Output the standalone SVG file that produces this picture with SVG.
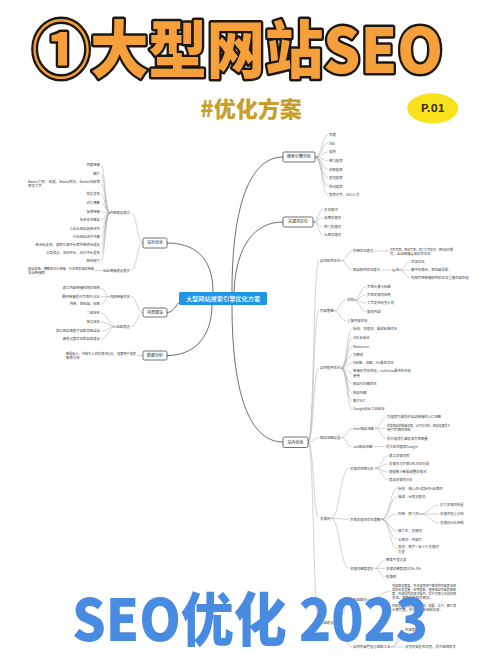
<svg xmlns="http://www.w3.org/2000/svg" width="500" height="667" viewBox="0 0 500 667">
<style>
text{font-family:"Noto Sans CJK SC","Noto Sans",sans-serif}
.t{font-size:3.4px;fill:#444}
.e{text-anchor:end}
.n{font-size:4px;fill:#222;text-anchor:middle}
.box{fill:#fff;stroke:#333;stroke-width:0.7}
.c{fill:none;stroke:#9a9a9a;stroke-width:0.45}
.m{fill:none;stroke:#4a4a4a;stroke-width:0.8}
</style>
<rect width="500" height="667" fill="#fff"/>

<g id="connectors">
  <!-- central to main -->
  <path class="m" d="M232,292 C232,200 252,157 283,157"/>
  <path class="m" d="M234,292 C236,245 255,222 283,222"/>
  <path class="m" d="M232,305 C232,400 252,442 283,442"/>
  <path class="m" d="M213,292 C213,255 192,243 167,243"/>
  <path class="m" d="M167,312.5 C174,312.5 176,304 180,302"/>
  <path class="m" d="M167,355.5 C200,355.5 212,330 212,305"/>
  <!-- 站外优化 -->
  <path class="c" d="M143,243 C137,243 137,213 131,213"/>
  <path class="c" d="M143,243 C137,243 137,270.5 131,270.5"/>
  <g>
    <path class="c" d="M110,213 C105,213 105,165 101,165"/>
    <path class="c" d="M110,213 C105,213 105,174 101,174"/>
    <path class="c" d="M110,213 C105,213 105,184 101,184"/>
    <path class="c" d="M110,213 C105,213 105,194 101,194"/>
    <path class="c" d="M110,213 C105,213 105,203 101,203"/>
    <path class="c" d="M110,213 C105,213 105,212 101,212"/>
    <path class="c" d="M110,213 C105,213 105,220 101,220"/>
    <path class="c" d="M110,213 C105,213 105,229 101,229"/>
    <path class="c" d="M110,213 C105,213 105,237 101,237"/>
    <path class="c" d="M110,213 C105,213 105,245 101,245"/>
    <path class="c" d="M110,213 C105,213 105,253 101,253"/>
    <path class="c" d="M110,213 C105,213 105,261 101,261"/>
  </g>
  <path class="c" d="M95,270.5 L102.5,270.5"/>
  <!-- 内部建设 -->
  <path class="c" d="M143,312.5 C137,312.5 137,296.7 131,296.7"/>
  <path class="c" d="M143,312.5 C137,312.5 137,326.7 131,326.7"/>
  <path class="c" d="M109,296.7 C105,296.7 105,288 101,288"/>
  <path class="c" d="M109,296.7 L101,296.7"/>
  <path class="c" d="M109,296.7 C105,296.7 105,304 101,304"/>
  <path class="c" d="M116,326.7 C108,326.7 108,313 101,313"/>
  <path class="c" d="M116,326.7 C108,326.7 108,322 101,322"/>
  <path class="c" d="M116,326.7 C108,326.7 108,331 101,331"/>
  <path class="c" d="M116,326.7 C108,326.7 108,339 101,339"/>
  <!-- 数据分析 -->
  <path class="c" d="M137.5,355.5 L143,355.5"/>
  <!-- 搜索引擎分析 -->
  <g>
    <path class="c" d="M315,157 C322,157 322,134.7 328,134.7"/>
    <path class="c" d="M315,157 C322,157 322,143.3 328,143.3"/>
    <path class="c" d="M315,157 C322,157 322,152 328,152"/>
    <path class="c" d="M315,157 C322,157 322,160.7 328,160.7"/>
    <path class="c" d="M315,157 C322,157 322,169.3 328,169.3"/>
    <path class="c" d="M315,157 C322,157 322,177.7 328,177.7"/>
    <path class="c" d="M315,157 C322,157 322,186.3 328,186.3"/>
    <path class="c" d="M315,157 C322,157 322,195 328,195"/>
  </g>
  <!-- 关键词定位 -->
  <path class="c" d="M313,222 C318.5,222 318.5,209.3 323,209.3"/>
  <path class="c" d="M313,222 C318.5,222 318.5,218 323,218"/>
  <path class="c" d="M313,222 C318.5,222 318.5,226.7 323,226.7"/>
  <path class="c" d="M313,222 C318.5,222 318.5,235 323,235"/>
  <!-- 站内优化 spine -->
  <path class="c" d="M308,442 C314,442 313,260.7 319,260.7"/>
  <path class="c" d="M308,442 C314,442 313,310.7 319,310.7"/>
  <path class="c" d="M308,442 C314,442 313,368 319,368"/>
  <path class="c" d="M308,442 C314,442 313,437.7 319,437.7"/>
  <path class="c" d="M308,442 C314,442 313,518.3 319,518.3"/>
  <path class="c" d="M308,442 C314,442 313,623 319,623"/>
  <!-- L1 -->
  <path class="c" d="M341,260.7 C347,260.7 347,251 352,251"/>
  <path class="c" d="M341,260.7 C347,260.7 347,270 352,270"/>
  <path class="c" d="M374,251 L389,251"/>
  <path class="c" d="M381,270 L391,270"/>
  <path class="c" d="M399,270 C405,270 405,261.7 410,261.7"/>
  <path class="c" d="M399,270 L410,270"/>
  <path class="c" d="M399,270 C405,270 405,278 410,278"/>
  <!-- L2 -->
  <path class="c" d="M334,310.7 C340,310.7 340,300 346,300"/>
  <path class="c" d="M334,310.7 C340,310.7 340,320.7 346,320.7"/>
  <path class="c" d="M354,300 C360,300 360,287 366,287"/>
  <path class="c" d="M354,300 C360,300 360,295 366,295"/>
  <path class="c" d="M354,300 C360,300 360,303 366,303"/>
  <path class="c" d="M354,300 C360,300 360,311.7 366,311.7"/>
  <!-- L3 -->
  <g>
    <path class="c" d="M341,368 C347,368 347,329 352,329"/>
    <path class="c" d="M341,368 C347,368 347,338 352,338"/>
    <path class="c" d="M341,368 C347,368 347,346.7 352,346.7"/>
    <path class="c" d="M341,368 C347,368 347,355 352,355"/>
    <path class="c" d="M341,368 C347,368 347,363 352,363"/>
    <path class="c" d="M341,368 C347,368 347,373 352,373"/>
    <path class="c" d="M341,368 C347,368 347,384 352,384"/>
    <path class="c" d="M341,368 C347,368 347,392.7 352,392.7"/>
    <path class="c" d="M341,368 C347,368 347,401 352,401"/>
    <path class="c" d="M341,368 C347,368 347,409 352,409"/>
  </g>
  <!-- L4 -->
  <path class="c" d="M341,437.7 C347,437.7 347,428.3 352,428.3"/>
  <path class="c" d="M341,437.7 C347,437.7 347,446.7 352,446.7"/>
  <path class="c" d="M375,428.3 C381,428.3 381,417 386,417"/>
  <path class="c" d="M375,428.3 L386,428.3"/>
  <path class="c" d="M375,428.3 C381,428.3 381,438.7 386,438.7"/>
  <path class="c" d="M373,446.7 L385,446.7"/>
  <!-- L5 -->
  <path class="c" d="M331,518.3 C340,518.3 340,468.3 349,468.3"/>
  <path class="c" d="M331,518.3 C340,518.3 340,519.3 349,519.3"/>
  <path class="c" d="M331,518.3 C340,518.3 340,568.3 349,568.3"/>
  <path class="c" d="M375,468.3 C382,468.3 382,455.7 388,455.7"/>
  <path class="c" d="M375,468.3 C382,468.3 382,464 388,464"/>
  <path class="c" d="M375,468.3 C382,468.3 382,472 388,472"/>
  <path class="c" d="M375,468.3 C382,468.3 382,480 388,480"/>
  <path class="c" d="M381,519.3 C390,519.3 390,488.3 397,488.3"/>
  <path class="c" d="M381,519.3 C390,519.3 390,496.7 397,496.7"/>
  <path class="c" d="M381,519.3 C390,519.3 390,514 397,514"/>
  <path class="c" d="M381,519.3 C390,519.3 390,530.7 397,530.7"/>
  <path class="c" d="M381,519.3 C390,519.3 390,539.3 397,539.3"/>
  <path class="c" d="M381,519.3 C390,519.3 390,549 397,549"/>
  <path class="c" d="M419,514 C430,514 430,505 439,505"/>
  <path class="c" d="M419,514 L439,514"/>
  <path class="c" d="M419,514 C430,514 430,522.7 439,522.7"/>
  <path class="c" d="M375,568.3 C380,568.3 380,560 385,560"/>
  <path class="c" d="M375,568.3 L385,568.3"/>
  <path class="c" d="M375,568.3 C380,568.3 380,576.7 385,576.7"/>
  <!-- L6 -->
  <path class="c" d="M334,623 C344,623 344,600 352,600"/>
  <path class="c" d="M334,623 C344,623 344,647 352,647"/>
  <path class="c" d="M367,600 C380,600 380,591.5 391,591.5"/>
  <path class="c" d="M367,600 C380,600 380,607.5 391,607.5"/>
  <path class="c" d="M391,647 C398,647 398,630 404,630"/>
  <path class="c" d="M391,647 C398,647 398,638.5 404,638.5"/>
  <path class="c" d="M391,647 L404,647"/>
</g>

<g id="center">
  <rect x="179" y="292" width="88" height="13" rx="1.5" fill="#1E95E6"/>
  <text x="223" y="300.8" text-anchor="middle" font-size="6.2" fill="#fff" font-weight="500">大型网站搜索引擎优化方案</text>
</g>

<g id="offsite">
  <rect class="box" x="143" y="238" width="24" height="10" rx="1.5"/>
  <text class="n" x="155" y="244.4">站外优化</text>
  <text class="t e" x="130" y="214.2">外链建设建议</text>
  <text class="t e" x="100" y="166.2">百度链接</text>
  <text class="t e" x="100" y="175.2">图片</text>
  <text class="t" x="28" y="183.2" textLength="72" lengthAdjust="spacingAndGlyphs">Baidu文库、知道、Baidu百科、Baidu经验等</text>
  <text class="t" x="28" y="187.4">相关文章</text>
  <text class="t e" x="100" y="195.2">信息发布</text>
  <text class="t e" x="100" y="204.2">论坛博客</text>
  <text class="t e" x="100" y="213.2">友情链接</text>
  <text class="t e" x="100" y="221.2">社会化书签站</text>
  <text class="t e" x="100" y="230.2">小站长网站友链合作</text>
  <text class="t e" x="100" y="238.2">行业网站合作共赢</text>
  <text class="t e" x="100" y="246.2">新闻源发布、搜索引擎平台等外链资源建设</text>
  <text class="t e" x="100" y="254.2">分类信息、B2B平台、论坛平台发布</text>
  <text class="t e" x="100" y="262.2">新闻软文</text>
  <text class="t" x="28" y="269.8" textLength="66" lengthAdjust="spacingAndGlyphs">网站友链、博客和论坛链接、行业相关网站链接</text>
  <text class="t" x="28" y="274">导出链接等</text>
  <text class="t e" x="130" y="271.7">出站链接建设建议</text>
</g>

<g id="internal">
  <rect class="box" x="143" y="308" width="24" height="9" rx="1.5"/>
  <text class="n" x="155" y="313.9">内部建设</text>
  <text class="t e" x="130" y="297.9">内部链接优化</text>
  <text class="t e" x="100" y="289.2">建立内容链接的网状结构</text>
  <text class="t e" x="100" y="297.9">循环链接提升页面PV占比</text>
  <text class="t e" x="100" y="305.2">内链、面包屑、标签</text>
  <text class="t e" x="130" y="327.9">站群建设</text>
  <text class="t e" x="100" y="314.2">二级域名</text>
  <text class="t e" x="100" y="323.2">独立域名</text>
  <text class="t e" x="100" y="332.2">独立网站搭建子站群互链全站</text>
  <text class="t e" x="100" y="340.2">避免过度优化的站群建设</text>
</g>

<g id="data">
  <rect class="box" x="143" y="351" width="24" height="9" rx="1.5"/>
  <text class="n" x="155" y="356.9">数据分析</text>
  <text class="t" x="66" y="355" textLength="70" lengthAdjust="spacingAndGlyphs">数据收入、外部引入的关键词分析、理清用户搜索</text>
  <text class="t" x="66" y="359.4">需求分布</text>
</g>

<g id="engine">
  <rect class="box" x="283" y="152" width="32" height="10" rx="1.5"/>
  <text class="n" x="299" y="158.4">搜索引擎分析</text>
  <text class="t" x="329" y="135.9">百度</text>
  <text class="t" x="329" y="144.5">360</text>
  <text class="t" x="329" y="153.2">搜狗</text>
  <text class="t" x="329" y="161.9">神马搜索</text>
  <text class="t" x="329" y="170.5">谷歌搜索</text>
  <text class="t" x="329" y="178.9">其他搜索</text>
  <text class="t" x="329" y="187.5">移动搜索</text>
  <text class="t" x="329" y="196.2">竞争对手、SEO人员</text>
</g>

<g id="keyword">
  <rect class="box" x="283" y="217" width="30" height="10" rx="1.5"/>
  <text class="n" x="298" y="223.4">关键词定位</text>
  <text class="t" x="324" y="210.5">主关键词</text>
  <text class="t" x="324" y="219.2">品牌关键词</text>
  <text class="t" x="324" y="227.9">热门关键词</text>
  <text class="t" x="324" y="236.2">长尾关键词</text>
</g>

<g id="onsite">
  <rect class="box" x="283" y="437" width="25" height="10.5" rx="1.5"/>
  <text class="n" x="295.5" y="443.6">站内优化</text>
</g>

<g id="structure">
  <text class="t" x="320" y="261.9">站内结构优化</text>
  <text class="t" x="353" y="252.2">内链优化建议</text>
  <text class="t" x="390" y="250.6" textLength="63" lengthAdjust="spacingAndGlyphs">栏目页面、相关页面、热门文章模块、相似模块推</text>
  <text class="t" x="390" y="254.8">荐，全站链接层级关系优化</text>
  <text class="t" x="353" y="271.2">网站结构优化建议</text>
  <text class="t" x="392" y="271.2">层级</text>
  <text class="t" x="411" y="262.9">目录优化</text>
  <text class="t" x="411" y="271.2">扁平化路径、面包屑导航</text>
  <text class="t" x="411" y="279.2">内部页面链接结构优化及重复内容处理</text>
</g>

<g id="content">
  <text class="t" x="320" y="311.9">内容策略</text>
  <text class="t" x="347" y="301.2">规划</text>
  <text class="t" x="367" y="288.2">页面元素与标签</text>
  <text class="t" x="367" y="296.2">页面关键词布局</text>
  <text class="t" x="367" y="304.2">文章发布规范计划</text>
  <text class="t" x="367" y="312.9">原创内容</text>
  <text class="t" x="347" y="321.9">重复内容处理</text>
</g>

<g id="program">
  <text class="t" x="320" y="369.2">站内程序优化</text>
  <text class="t" x="353" y="330.2">标题、关键词、描述标签优化</text>
  <text class="t" x="353" y="339.2">URL标准化</text>
  <text class="t" x="353" y="347.9">Robots.txt</text>
  <text class="t" x="353" y="356.2">伪静态</text>
  <text class="t" x="353" y="364.2">H标签、加粗、Alt属性优化</text>
  <text class="t" x="353" y="372.4">链接规范化处理，nofollow属性的合理</text>
  <text class="t" x="353" y="376.6">使用</text>
  <text class="t" x="353" y="385.2">网站代码精简化</text>
  <text class="t" x="353" y="393.9">网站地图</text>
  <text class="t" x="353" y="402.2">图片ALT</text>
  <text class="t" x="353" y="410.2">Google站长工具验证</text>
</g>

<g id="sitemap">
  <text class="t" x="320" y="438.9">网站地图设置</text>
  <text class="t" x="353" y="429.5">html网站地图</text>
  <text class="t" x="387" y="418.2">为搜索引擎提供全站链接的入口地图</text>
  <text class="t" x="387" y="427.2" textLength="63" lengthAdjust="spacingAndGlyphs">提高网站的链接深度，从可访问性、网站深度提升</text>
  <text class="t" x="387" y="431.4">用户页面的体验</text>
  <text class="t" x="387" y="439.9">提升搜索引擎收录页面数量</text>
  <text class="t" x="353" y="447.9">xml网站地图</text>
  <text class="t" x="386" y="447.9">提交给百度和Google</text>
</g>

<g id="kwlayout">
  <text class="t" x="320" y="519.5">关键词</text>
  <text class="t" x="350" y="469.5">关键词挖掘分析</text>
  <text class="t" x="389" y="456.9">建立关键词库</text>
  <text class="t" x="389" y="465.2">关键词与页面URL对应分配</text>
  <text class="t" x="389" y="473.2">根据统计数据调整关键词</text>
  <text class="t" x="389" y="481.2">竞品关键词分析</text>
  <text class="t" x="350" y="520.5">页面关键词优化策略</text>
  <text class="t" x="398" y="489.5">标题：核心词+修饰词+品牌词</text>
  <text class="t" x="398" y="497.9">描述：长尾关键词</text>
  <text class="t" x="398" y="515.2">内链：热门词</text>
  <text class="t" x="440" y="506.2">正文关键词布置</text>
  <text class="t" x="440" y="515.2">关键词权重分布</text>
  <text class="t" x="440" y="523.9">关键词占比控制</text>
  <text class="t" x="398" y="531.9">锚文本：关键词</text>
  <text class="t" x="398" y="540.5">长尾词：内容页</text>
  <text class="t" x="398" y="548.4">其他：每页一至三个关键词</text>
  <text class="t" x="398" y="552.6">为宜</text>
  <text class="t" x="350" y="569.5">关键词密度建议</text>
  <text class="t" x="386" y="561.2">密度不宜过高</text>
  <text class="t" x="386" y="569.5">关键词密度建议2%-8%</text>
  <text class="t" x="386" y="577.9">防堆砌</text>
</g>

<g id="contentbuild">
  <text class="t" x="320" y="624.2">内容建设</text>
  <text class="t" x="353" y="601.2">内容原创</text>
  <text class="t" x="392" y="586.6" textLength="64" lengthAdjust="spacingAndGlyphs">内容原创度高，符合搜索用户需求的内容更易获</text>
  <text class="t" x="392" y="590.6" textLength="64" lengthAdjust="spacingAndGlyphs">得排名和流量；定期更新，保持网站内容的新鲜</text>
  <text class="t" x="392" y="594.6" textLength="64" lengthAdjust="spacingAndGlyphs">度；内容围绕关键词展开，提升页面与主题的相</text>
  <text class="t" x="392" y="598.6">关性，避免采集和伪原创。</text>
  <text class="t" x="392" y="606.6" textLength="64" lengthAdjust="spacingAndGlyphs">内容发布遵循规范，标题、摘要、正文、图片等</text>
  <text class="t" x="392" y="610.6">元素完整，提升用户体验和收录。</text>
  <text class="t" x="353" y="648.2">站内内容管理与编辑工具</text>
  <text class="t" x="405" y="631.2">内容更新</text>
  <text class="t" x="405" y="639.7">定期审核</text>
  <text class="t" x="405" y="648.2">规范内容发布流程，提升编辑效率</text>
</g>

<g id="title">
  <text x="32" y="73" font-size="62" font-weight="900" textLength="411" lengthAdjust="spacingAndGlyphs" fill="#F5A03A" stroke="#1d1712" stroke-width="5" stroke-linejoin="round" paint-order="stroke">①大型网站SEO</text>
  <text x="251" y="117" text-anchor="middle" font-size="22" font-weight="900" fill="#C6A02A">#优化方案</text>
  <ellipse cx="432.7" cy="108.3" rx="25.5" ry="15" fill="#F9E11B"/>
  <text x="432.7" y="112" text-anchor="middle" font-size="10.5" font-weight="700" fill="#3a2c10" textLength="24" lengthAdjust="spacingAndGlyphs">P.01</text>
</g>

<g id="banner">
  <text x="72" y="641" font-size="58" font-weight="900" fill="#4A8BE2" textLength="356" lengthAdjust="spacingAndGlyphs">SEO优化 2023</text>
</g>
</svg>
